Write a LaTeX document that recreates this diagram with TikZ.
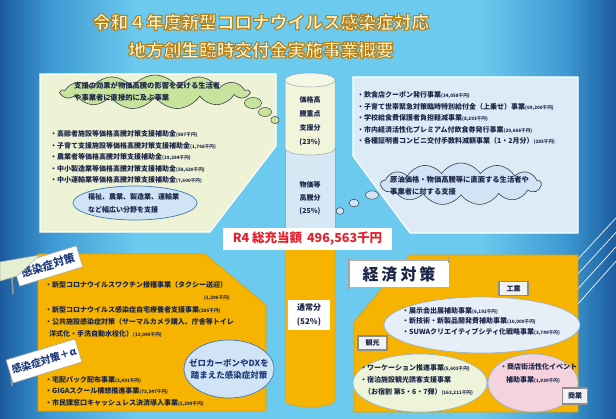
\documentclass[tikz,border=0pt]{standalone}
\usepackage{fontspec}
\setmainfont{Noto Sans CJK JP}
\usetikzlibrary{shapes.symbols,shapes.geometric}
\definecolor{bgdark}{HTML}{1C5C9E}
\definecolor{bgmid}{HTML}{3C98D2}
\definecolor{bglight}{HTML}{6BCAEE}
\definecolor{panelG}{HTML}{EEF3D5}
\definecolor{panelB}{HTML}{DDEBF6}
\definecolor{cloudG}{HTML}{C8E39C}
\definecolor{cloudB}{HTML}{D0E4F5}
\definecolor{cloudline}{HTML}{3A3F48}
\definecolor{ellB}{HTML}{D0E4F5}
\definecolor{ellBd}{HTML}{3F77B8}
\definecolor{orng}{HTML}{F6B400}
\definecolor{orngd}{HTML}{E0A000}
\definecolor{cylG}{HTML}{F1F5DA}
\definecolor{cylTop}{HTML}{F6F8E6}
\definecolor{cylB}{HTML}{D6E8F4}
\definecolor{cyledge}{HTML}{9AA8B0}
\definecolor{ink}{HTML}{1B2548}
\definecolor{navy}{HTML}{1F3A7A}
\definecolor{redT}{HTML}{E5202E}
\definecolor{ellW}{HTML}{E6EFF7}
\definecolor{ellWd}{HTML}{8FB2D4}
\definecolor{ellGr}{HTML}{EEF4DA}
\definecolor{ellP}{HTML}{F4D3DF}
\definecolor{labgray}{HTML}{8C8C8C}
\definecolor{titlefill}{HTML}{FFF8D0}
\definecolor{softgreen}{HTML}{E3EFCF}
\pgfdeclarehorizontalshading{bgshade}{100bp}{color(0bp)=(bgdark); color(25bp)=(bgdark); color(29bp)=(bgmid); color(36bp)=(bglight); color(64bp)=(bglight); color(71bp)=(bgmid); color(75bp)=(bgdark); color(100bp)=(bgdark)}
\newcommand\amt[1]{{\fontsize{4.6}{5}\selectfont #1}}
\newcommand\outltext[1]{\special{pdf:literal direct 2 Tr 1.1 w 0.72 0.50 0.10 RG}#1\special{pdf:literal direct 0 Tr}}
\tikzset{
  bul/.style={anchor=west, inner sep=0pt, font=\fontsize{7}{8}\selectfont\bfseries, text=ink},
  panelline/.style={draw=white, line width=1.2pt},
  bub/.style={draw=cloudline, line width=0.5pt},
  lab/.style={fill=white!95!black, draw=labgray, line width=1.6pt, minimum width=29pt, minimum height=14pt, inner sep=0pt, font=\fontsize{7}{8}\selectfont\bfseries, text=ink},
  signshape/.style={fill=white, draw=gray!70, line width=0.6pt},
  signtext/.style={inner sep=0pt, text=navy},
  cyltext/.style={align=center, inner sep=0pt, text=ink, font=\fontsize{7}{14}\selectfont\bfseries},
  titletext/.style={inner sep=0pt, text=titlefill, font=\fontsize{17.7}{20}\selectfont\bfseries}
}
\begin{document}
\begin{tikzpicture}[x=1pt,y=-1pt]
\useasboundingbox (0,0) rectangle (616,418);
\fill[shading=bgshade] (0,0) rectangle (616,418);
% decorative stripes
\foreach \o in {0,9,18,27}{
  \draw[white, line width=0.8pt, opacity=0.85] (540+\o,300+\o*0.6) -- (616,218+\o*1.6);
}
% title
\node[titletext] (title1) at (261,22) {\outltext{令和４年度新型コロナウイルス感染症対応}};
\node[titletext] (title2) at (261,50) {\outltext{地方創生臨時交付金実施事業概要}};

% top-left panel
\filldraw[fill=panelG, panelline] (40,74) -- (276,74) -- (276,146) -- (210,232) -- (40,232) -- cycle;
% top-right panel
\filldraw[fill=panelB, panelline] (353,77) -- (578,77) -- (578,233) -- (410,233) -- (353,156) -- cycle;
% bottom-left orange panel
\filldraw[fill=orng, draw=orngd, line width=0.6pt] (38,254) -- (205,254) -- (266,305) -- (266,411) -- (38,411) -- cycle;
% bottom-right orange panel
\filldraw[fill=orng, draw=orngd, line width=0.6pt] (410,255) -- (578,255) -- (578,412) -- (354,412) -- (354,322) -- cycle;

% cylinder
\filldraw[fill=cylB, draw=cyledge, line width=0.5pt] (285,148) -- (285,245) -- (335,245) -- (335,148) -- cycle;
\filldraw[fill=orng, draw=orngd, line width=0.5pt] (285,245) -- (285,400) .. controls (285,409.3) and (335,409.3) .. (335,400) -- (335,245) -- cycle;
\filldraw[fill=cylG, draw=cyledge, line width=0.5pt] (285,80) -- (285,148) .. controls (285,157.3) and (335,157.3) .. (335,148) -- (335,80) -- cycle;
\filldraw[fill=cylTop, draw=cyledge, line width=0.5pt] (310,80) ellipse [x radius=25pt, y radius=7pt];
\node[cyltext] (cyl1) at (310,121) {価格高\\騰重点\\支援分\\(23\%)};
\node[cyltext, font=\fontsize{7}{13}\selectfont\bfseries] (cyl2) at (310,198) {物価等\\高騰分\\(25\%)};
\node[fill=white, minimum width=42pt, minimum height=30pt, inner sep=0pt, align=center, text=ink, font=\fontsize{8}{14}\selectfont\bfseries] (cyl3) at (309,315) {通常分\\(52\%)};

% top-left cloud
\node[cloud, cloud puffs=13, cloud puff arc=115, cloud ignores aspect, minimum width=188pt, minimum height=34pt, draw=cloudline, fill=cloudG, line width=0.6pt] (cl1) at (155,92) {};
\node[anchor=west, align=left, inner sep=0pt, text=ink, font=\fontsize{7.3}{11.5}\selectfont\bfseries] (cl1t) at (74,91.5) {支援の効果が物価高騰の影響を受ける生活者\\や事業者に直接的に及ぶ事業};
\filldraw[fill=cloudG, bub] (253,103) ellipse [x radius=8.5pt, y radius=5.5pt];
\filldraw[fill=cloudG, bub] (265,112) ellipse [x radius=6.5pt, y radius=4.5pt];
\filldraw[fill=cloudG, bub] (275,120) ellipse [x radius=4.2pt, y radius=3.6pt];

% top-left bullets
\node[bul] (tl1) at (50,134) {・高齢者施設等価格高騰対策支援補助金\amt{(867千円)}};
\node[bul] (tl2) at (50,145.5) {・子育て支援施設等価格高騰対策支援補助金\amt{(1,768千円)}};
\node[bul] (tl3) at (50,157) {・農業者等価格高騰対策支援補助金\amt{(19,284千円)}};
\node[bul] (tl4) at (50,168.5) {・中小製造業等価格高騰対策支援補助金\amt{(58,620千円)}};
\node[bul] (tl5) at (50,180) {・中小運輸業等価格高騰対策支援補助金\amt{(7,600千円)}};

% top-left ellipse
\node[ellipse, minimum width=124pt, minimum height=34pt, fill=ellB, draw=ellBd, line width=0.7pt] (el1) at (135,203) {};
\node[anchor=west, align=left, inner sep=0pt, text=ink, font=\fontsize{7}{13}\selectfont\bfseries] (el1t) at (88,203.5) {福祉、農業、製造業、運輸業\\など幅広い分野を支援};

% top-right bullets
\node[bul] (tr1) at (357,95) {・飲食店クーポン発行事業\amt{(34,058千円)}};
\node[bul] (tr2) at (357,106.5) {・子育て世帯緊急対策臨時特別給付金（上乗せ）事業\amt{(69,200千円)}};
\node[bul] (tr3) at (357,118) {・学校給食費保護者負担軽減事業\amt{(8,293千円)}};
\node[bul] (tr4) at (357,129.5) {・市内経済活性化プレミアム付飲食券発行事業\amt{(29,668千円)}};
\node[bul] (tr5) at (357,141) {・各種証明書コンビニ交付手数料減額事業（1・2月分）\amt{(285千円)}};

% top-right cloud
\node[cloud, cloud puffs=13, cloud puff arc=115, cloud ignores aspect, minimum width=160pt, minimum height=42pt, draw=cloudline, fill=cloudB, line width=0.6pt] (cl2) at (461,184) {};
\node[anchor=west, align=left, inner sep=0pt, text=ink, font=\fontsize{7.3}{12}\selectfont\bfseries] (cl2t) at (390,186) {原油価格・物価高騰等に直面する生活者や\\事業者に対する支援};
\filldraw[fill=cloudB, bub] (372,195) ellipse [x radius=6.5pt, y radius=4.2pt];
\filldraw[fill=cloudB, bub] (354,203) ellipse [x radius=5pt, y radius=3.8pt];
\filldraw[fill=cloudB, bub] (340,211) ellipse [x radius=4pt, y radius=3.4pt];

% total banner
\node[fill=white, minimum width=169pt, minimum height=22pt, inner sep=0pt, text=redT, font=\fontsize{12.5}{13}\selectfont\bfseries] (total) at (307.5,239) {R4 総充当額\hspace{5pt}496,563千円};

% bottom-left: infection measures
\node[bul] (bl1) at (45,285) {・新型コロナウイルスワクチン接種事業（タクシー送迎）};
\node[bul, anchor=east] (bl1a) at (230,298) {\amt{(1,296千円)}};
\node[bul] (bl2) at (45,310) {・新型コロナウイルス感染症自宅療養者支援事業\amt{(285千円)}};
\node[bul] (bl3) at (45,322) {・公共施設感染症対策（サーマルカメラ購入、庁舎等トイレ};
\node[bul] (bl4) at (49,334) {洋式化・手洗自動水栓化）\amt{(13,090千円)}};
\node[bul] (bl5) at (45,380) {・宅配パック配布事業\amt{(2,491千円)}};
\node[bul] (bl6) at (45,391.5) {・GIGAスクール構想推進事業\amt{(73,347千円)}};
\node[bul] (bl7) at (45,403) {・市民課窓口キャッシュレス決済導入事業\amt{(1,299千円)}};

\node[ellipse, minimum width=90pt, minimum height=58pt, fill=ellB, draw=ellBd, line width=0.7pt] (el2) at (229,369) {};
\node[align=center, inner sep=0pt, text=navy, font=\fontsize{8.5}{12.5}\selectfont\bfseries] (el2t) at (229,369) {ゼロカーボンやDXを\\踏まえた感染症対策};

% signs
\draw[gray!80, line width=1.6pt] (11,262) -- (13,294);
\filldraw[signshape, rotate around={17:(48,266)}] (15,255) rectangle (81,277);
\node[signtext, rotate=17, font=\fontsize{11}{12}\selectfont\bfseries] (sg1) at (48,265.5) {感染症対策};
\filldraw[fill=softgreen, draw=gray!60, line width=0.5pt] (0,262) -- (40,255) -- (17,276) -- (0,281) -- cycle;
\draw[gray!80, line width=1.6pt] (10,358) -- (12,386);
\filldraw[signshape, rotate around={17:(44,361)}] (8,349) rectangle (80,373);
\node[signtext, rotate=17, font=\fontsize{10}{11}\selectfont\bfseries] (sg2) at (44,360.5) {感染症対策＋α};

% economic measures
\node[fill=white, draw=gray!60, line width=0.6pt, inner sep=0pt, minimum width=101pt, minimum height=27pt, text=ink, font=\fontsize{16}{17}\selectfont\bfseries] (sg3) at (399,274) {経\hspace{3pt}済\hspace{3pt}対\hspace{3pt}策};
\draw[gray!70, line width=1.4pt] (349,258) -- (349,290);
\draw[gray!70, line width=1.4pt] (449,257) -- (449,263);

\node[ellipse, minimum width=196pt, minimum height=56pt, fill=ellW, draw=ellWd, line width=0.6pt] (e-ind) at (482,325) {};
\node[lab] (l-ind) at (513.5,288.5) {工業};
\node[bul] (in1) at (402,311) {・展示会出展補助事業\amt{(6,192千円)}};
\node[bul] (in2) at (402,321.5) {・新技術・新製品開発費補助事業\amt{(10,000千円)}};
\node[bul] (in3) at (402,332) {・SUWAクリエイティブシティ化戦略事業\amt{(3,749千円)}};

\node[ellipse, minimum width=134pt, minimum height=58pt, fill=ellGr, draw=ellWd, line width=0.6pt] (e-tour) at (420,383) {};
\node[ellipse, minimum width=90pt, minimum height=58pt, fill=ellP, draw=ellWd, line width=0.6pt] (e-com) at (533,383) {};
\node[lab] (l-tour) at (372.5,343) {観光};
\node[lab, minimum width=25pt, minimum height=16pt] (l-com) at (575,396) {商業};
\node[bul] (to1) at (360,368) {・ワーケーション推進事業\amt{(5,603千円)}};
\node[bul] (to2) at (360,380) {・宿泊施設観光誘客支援事業};
\node[bul] (to3) at (364,392) {（お宿割 第5・6・7弾）\amt{(163,211千円)}};
\node[bul] (co1) at (500,367) {・商店街活性化イベント};
\node[bul] (co2) at (506,380) {補助事業\amt{(1,939千円)}};
\end{tikzpicture}
\end{document}
